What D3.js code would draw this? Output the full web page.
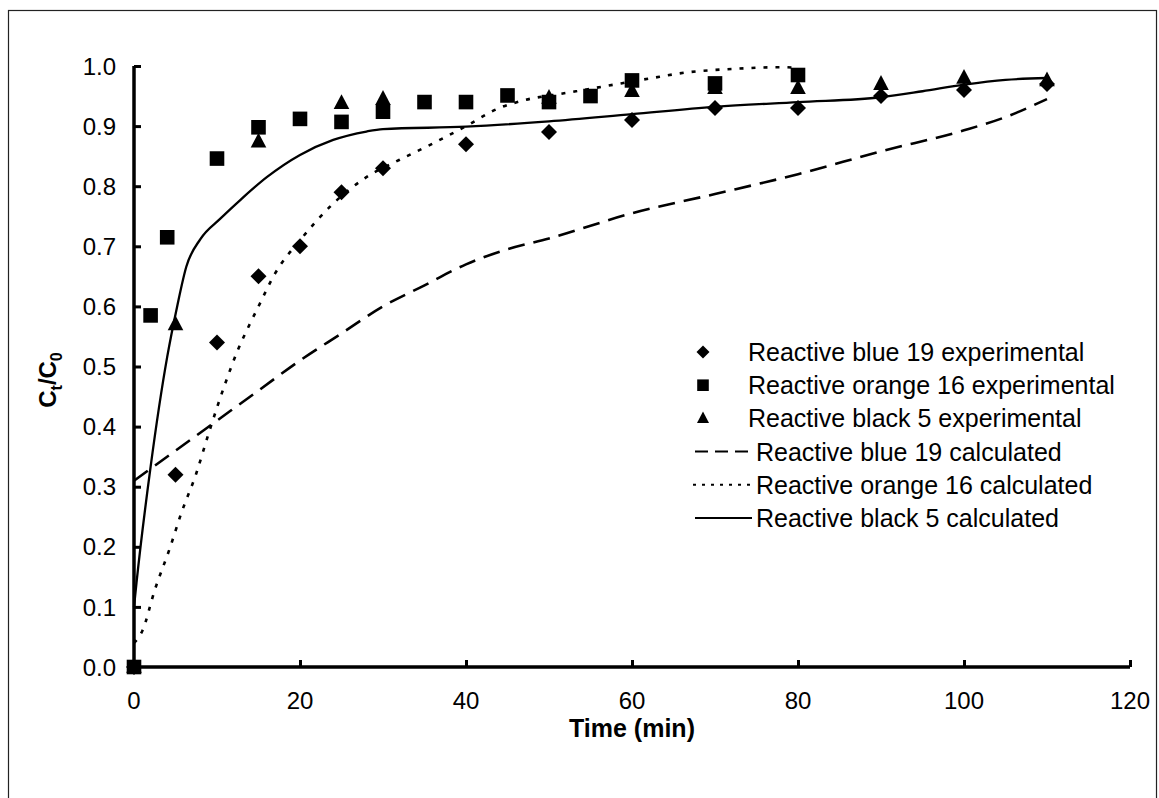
<!DOCTYPE html>
<html><head><meta charset="utf-8">
<script src="https://cdn.jsdelivr.net/npm/d3@7"></script>
<style>body{margin:0;background:#fff}svg{display:block}text{font-family:"Liberation Sans",Arial,sans-serif;fill:#000}</style>
</head><body>
<svg id="c" width="1159" height="798"></svg>
<script>
// ---- data ----
const xTicks = [0,20,40,60,80,100,120];
const yTicks = [0,0.1,0.2,0.3,0.4,0.5,0.6,0.7,0.8,0.9,1.0];
const blueExpT = [0,5,10,15,20,25,30,40,50,60,70,80,90,100,110];
const blueExpV = [0,0.32,0.54,0.65,0.70,0.79,0.83,0.87,0.89,0.91,0.93,0.93,0.95,0.96,0.97];
const orangeExpT = [0,2,4,10,15,20,25,30,35,40,45,50,55,60,70,80];
const orangeExpV = [0,0.585,0.715,0.846,0.898,0.912,0.907,0.924,0.94,0.94,0.951,0.94,0.95,0.976,0.971,0.985];
const blackExpT = [0,5,15,25,30,50,60,70,80,90,100,110];
const blackExpV = [0,0.57,0.874,0.938,0.945,0.947,0.958,0.963,0.963,0.97,0.98,0.976];
const blueCalcT = [0,5,10,15,20,25,30,35,40,45,50,60,70,80,90,100,105,110];
const blueCalcV = [0.31,0.36,0.41,0.46,0.51,0.555,0.60,0.635,0.67,0.695,0.713,0.755,0.787,0.82,0.858,0.893,0.915,0.945];
const orangeCalcT = [0,1,2.5,4.3,5.7,7.5,9,11,12.5,14,15,17,20,24,28,32,36,40,44,47,52,57,62,67,72,78,80];
const orangeCalcV = [0.04,0.06,0.128,0.197,0.256,0.322,0.389,0.472,0.527,0.572,0.6,0.655,0.71,0.771,0.815,0.844,0.871,0.9,0.93,0.943,0.955,0.967,0.979,0.99,0.995,0.998,0.997];
const blackCalcT = [0,0.3,2,4,5.2,6.3,8,10.4,12.8,16,20,24,28,30,40,50,60,70,80,90,95,100,105,110];
const blackCalcV = [0.1,0.14,0.333,0.516,0.6,0.666,0.712,0.746,0.777,0.815,0.852,0.877,0.891,0.895,0.899,0.908,0.92,0.932,0.94,0.948,0.958,0.969,0.977,0.98];
const legendLabels = ["Reactive blue 19 experimental","Reactive orange 16 experimental","Reactive black 5 experimental","Reactive blue 19 calculated","Reactive orange 16 calculated","Reactive black 5 calculated"];

const svg = d3.select("#c");
// outer frame
svg.append("rect").attr("x",8.5).attr("y",10.5).attr("width",1148).attr("height",800)
  .attr("fill","none").attr("stroke","#222").attr("stroke-width",1.2);

const x = d3.scaleLinear().domain([0,120]).range([134,1130]);
const y = d3.scaleLinear().domain([0,1]).range([667,66]);

const fs = 24, lfs = 25;
// y axis
const yAx = svg.append("g").attr("transform",`translate(${x(0)},0)`)
  .call(d3.axisRight(y).tickValues(yTicks).tickSize(7).tickFormat(""));
yAx.select(".domain").attr("stroke","#000").attr("stroke-width",3.5).attr("d",`M0,${y(0)}V${y(1)}`);
yAx.selectAll(".tick line").attr("stroke","#000").attr("stroke-width",3);
svg.append("g").selectAll("text").data(yTicks).join("text")
  .attr("x",116).attr("y",d=>y(d)).attr("dy","0.36em").attr("text-anchor","end")
  .attr("font-size",fs).text(d=>d3.format(".1f")(d));
// x axis
const xAx = svg.append("g").attr("transform",`translate(0,${y(0)})`)
  .call(d3.axisTop(x).tickValues(xTicks.slice(1)).tickSize(7).tickFormat(""));
xAx.select(".domain").attr("stroke","#000").attr("stroke-width",3.5).attr("d",`M${x(0)},0H${x(120)}`);
xAx.selectAll(".tick line").attr("stroke","#000").attr("stroke-width",3);
svg.append("g").selectAll("text").data(xTicks).join("text")
  .attr("x",d=>x(d)).attr("y",y(0)+42).attr("text-anchor","middle")
  .attr("font-size",fs).text(d=>d);
// axis titles
svg.append("text").attr("x",632).attr("y",737).attr("text-anchor","middle")
  .attr("font-size",25).attr("font-weight","bold").text("Time (min)");
const yl = svg.append("text").attr("transform","translate(56,380) rotate(-90)")
  .attr("text-anchor","middle").attr("font-size",24).attr("font-weight","bold");
yl.append("tspan").text("C");
yl.append("tspan").attr("font-size",16).attr("dy",6).text("t");
yl.append("tspan").attr("dy",-6).text("/C");
yl.append("tspan").attr("font-size",16).attr("dy",6).text("0");

// lines
const line = d3.line().x(d=>x(d[0])).y(d=>y(d[1])).curve(d3.curveMonotoneX);
const zip = (a,b)=>a.map((t,i)=>[t,b[i]]);
const lineStyles = [
  {t:blueCalcT,v:blueCalcV,dash:"17,9",w:2.6},
  {t:orangeCalcT,v:orangeCalcV,dash:"4,8",w:2.6},
  {t:blackCalcT,v:blackCalcV,dash:null,w:2.3}
];
lineStyles.forEach(s=>{
  svg.append("path").attr("d",line(zip(s.t,s.v))).attr("fill","none").attr("stroke","#000")
    .attr("stroke-width",s.w).attr("stroke-dasharray",s.dash);
});

// markers
const diamondPath = s=>`M0,${-s}L${s},0L0,${s}L${-s},0Z`;
const squarePath = s=>`M${-s},${-s}H${s}V${s}H${-s}Z`;
const triPath = s=>`M0,${-s*1.15}L${s},${s*0.75}L${-s},${s*0.75}Z`;
const series = [
  {t:blueExpT,v:blueExpV,p:diamondPath(8)},
  {t:orangeExpT,v:orangeExpV,p:squarePath(7.3)},
  {t:blackExpT,v:blackExpV,p:triPath(7.8)}
];
series.forEach(s=>{
  svg.append("g").selectAll("path").data(zip(s.t,s.v)).join("path")
    .attr("transform",d=>`translate(${x(d[0])},${y(d[1])})`).attr("d",s.p).attr("fill","#000");
});

// legend
const lg = svg.append("g");
const rowY = i=>352+i*33.2;
const lpaths = [diamondPath(6.5),squarePath(5.8),triPath(6)];
lpaths.forEach((p,i)=>{
  lg.append("path").attr("transform",`translate(703,${rowY(i)})`).attr("d",p).attr("fill","#000");
  lg.append("text").attr("x",748).attr("y",rowY(i)).attr("dy","0.36em").attr("font-size",lfs).text(legendLabels[i]);
});
lineStyles.forEach((s,j)=>{
  const i=j+3;
  lg.append("line").attr("x1",j===1?693:695).attr("x2",752).attr("y1",rowY(i)).attr("y2",rowY(i))
    .attr("stroke","#000").attr("stroke-width",j===2?1.8:2).attr("stroke-dasharray",j===0?"13,7":(j===1?"3,6":null));
  lg.append("text").attr("x",756).attr("y",rowY(i)).attr("dy","0.36em").attr("font-size",lfs).text(legendLabels[i]);
});
</script>
</body></html>
